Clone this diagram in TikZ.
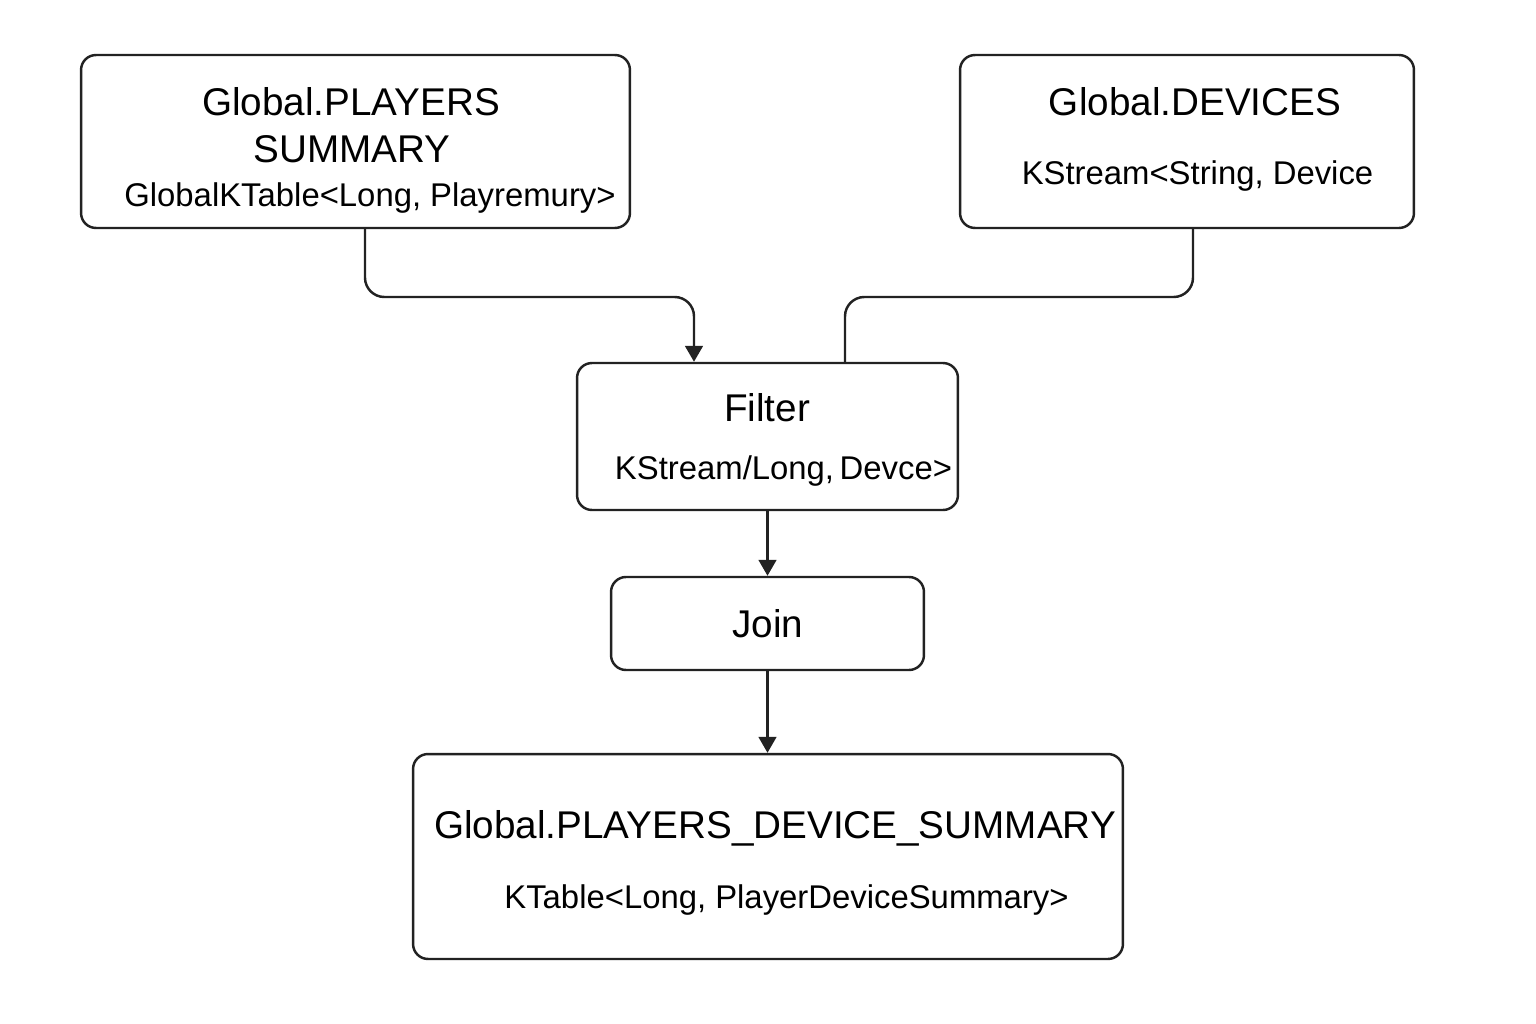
\documentclass[tikz,border=0pt]{standalone}
\usepackage{fontspec}
\setmainfont{Liberation Sans}
\usetikzlibrary{arrows.meta}
\definecolor{ink}{HTML}{222222}
\begin{document}
\begin{tikzpicture}[x=0.02cm,y=-0.02cm,
 box/.style={draw=ink,line width=1.4pt,rounded corners=8.5pt,inner sep=0pt},
 ttl/.style={font=\fontsize{22}{26}\selectfont,inner sep=0pt,anchor=base,text=black},
 sub/.style={font=\fontsize{18.7}{22}\selectfont,inner sep=0pt,anchor=base,text=black},
 conn/.style={draw=ink,line width=1.4pt,rounded corners=11pt},
 arr/.style={-{Triangle[length=9pt,width=10pt]}}]
\useasboundingbox (0,0) rectangle (1536,1024);
% boxes
\node[box,minimum width=10.98cm,minimum height=3.46cm] (pl) at (355.5,141.5) {};
\node[box,minimum width=9.08cm,minimum height=3.46cm] (dv) at (1187,141.5) {};
\node[box,minimum width=7.62cm,minimum height=2.94cm] (fi) at (767.5,436.5) {};
\node[box,minimum width=6.26cm,minimum height=1.86cm] (jo) at (767.5,623.5) {};
\node[box,minimum width=14.2cm,minimum height=4.1cm] (ps) at (768,856.5) {};
% texts
\node[ttl] (plt1) at (351,116) {Global.PLAYERS};
\node[ttl] (plt2) at (352,163) {SUMMARY};
\node[sub] (pls) at (370,207) {GlobalKTable<Long, Playremury>};
\node[ttl] (dvt) at (1195,116) {Global.DEVICES};
\node[sub] (dvs) at (1197.5,185) {KStream<String, Device};
\node[ttl] (fit) at (767,421) {Filter};
\node[sub] (fis) at (783.5,479) {KStream/Long,\hspace{-2pt} Devce>};
\node[ttl] (jot) at (768,637) {Join};
\node[ttl] (pst) at (775,838) {Global.PLAYERS\_DEVICE\_SUMMARY};
\node[sub] (pss) at (786.5,908) {KTable<Long, PlayerDeviceSummary>};
% connectors
\coordinate (c1) at (365,297);
\coordinate (c1b) at (694,297);
\coordinate (c2) at (1193,297);
\coordinate (c2b) at (845,297);
\draw[conn,arr] (pl.south -| c1) -- (c1) -- (c1b) -- (fi.north -| c1b);
\draw[conn] (dv.south -| c2) -- (c2) -- (c2b) -- (fi.north -| c2b);
\draw[conn,arr] (fi.south) -- (jo.north);
\draw[conn,arr] (jo.south) -- (ps.north -| jo.south);
\end{tikzpicture}
\end{document}
